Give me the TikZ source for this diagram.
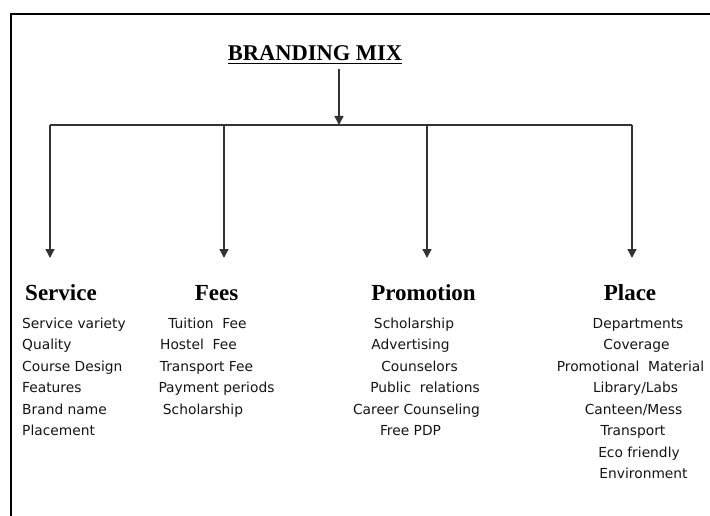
\documentclass[tikz,border=0pt]{standalone}
\usepackage{fontspec}
\setmainfont{Liberation Serif}
\newfontfamily\itemfont{DejaVu Sans}
\usetikzlibrary{arrows.meta}
\tikzset{
  frameline/.style={line width=2.3pt, black},
  conn/.style={line width=1.4pt, draw=black!80},
  arr/.style={conn, -{Triangle[width=9pt,length=9pt]}},
  titletext/.style={inner sep=0pt, anchor=base, font=\fontsize{22.5}{26}\selectfont\bfseries},
  headtext/.style={inner sep=0pt, anchor=base, font=\fontsize{23}{26}\selectfont\bfseries},
  itemtext/.style={inner sep=0pt, anchor=base, font=\itemfont\fontsize{13.8}{16}\selectfont, text=black!92},
  itemleft/.style={itemtext, anchor=base west}
}
\begin{document}
\begin{tikzpicture}[x=1pt,y=-1pt]
\useasboundingbox (0,0) rectangle (710,516);
% frame
\draw[frameline] (11,516) -- (11,14) -- (710,14);

% title
\node[titletext] (title) at (315,61) {BRANDING MIX};
\draw[line width=1.3pt] ([yshift=-2.6pt]title.base west) -- ([yshift=-2.6pt]title.base east);

% bar coordinates
\coordinate (jc) at (339,125);
\coordinate (j1) at (50,125);
\coordinate (j2) at (224,125);
\coordinate (j3) at (427,125);
\coordinate (j4) at (632,125);
\coordinate (e1) at (50,258);
\coordinate (e2) at (224,258);
\coordinate (e3) at (427,258);
\coordinate (e4) at (632,258);
\coordinate (ts) at (339,69);

\draw[arr] (ts) -- (jc);
\draw[conn] (j1) -- (j4);
\draw[arr] (j1) -- (e1);
\draw[arr] (j2) -- (e2);
\draw[arr] (j3) -- (e3);
\draw[arr] (j4) -- (e4);

% headings
\node[headtext] (hservice) at (61,300) {Service};
\node[headtext] (hfees) at (216.5,300) {Fees};
\node[headtext] (hpromo) at (423.5,300) {Promotion};
\node[headtext] (hplace) at (630,300) {Place};

% Service
\node[itemleft] (s1) at (22,328) {Service variety};
\node[itemleft] (s2) at (22,349.5) {Quality};
\node[itemleft] (s3) at (22,371) {Course Design};
\node[itemleft] (s4) at (22,392.5) {Features};
\node[itemleft] (s5) at (22,414) {Brand name};
\node[itemleft] (s6) at (22,435.5) {Placement};

% Fees
\node[itemtext] (f1) at (207.5,328) {Tuition\ \ Fee};
\node[itemtext] (f2) at (198.5,349.5) {Hostel\ \ Fee};
\node[itemtext] (f3) at (206.5,371) {Transport Fee};
\node[itemtext] (f4) at (216.5,392.5) {Payment periods};
\node[itemtext] (f5) at (203,414) {Scholarship};

% Promotion
\node[itemtext] (p1) at (414,328) {Scholarship};
\node[itemtext] (p2) at (410.5,349.5) {Advertising};
\node[itemtext] (p3) at (419.5,371) {Counselors};
\node[itemtext] (p4) at (425,392.5) {Public\ \ relations};
\node[itemtext] (p5) at (416.5,414) {Career Counseling};
\node[itemtext] (p6) at (410.5,435.5) {Free PDP};

% Place
\node[itemtext] (l1) at (638,328) {Departments};
\node[itemtext] (l2) at (636.5,349.5) {Coverage};
\node[itemtext] (l3) at (630.5,371) {Promotional\ \ Material};
\node[itemtext] (l4) at (635.5,392.5) {Library/Labs};
\node[itemtext] (l5) at (633.5,414) {Canteen/Mess};
\node[itemtext] (l6) at (633,435.5) {Transport};
\node[itemtext] (l7) at (639,457) {Eco friendly};
\node[itemtext] (l8) at (643.5,478.5) {Environment};
\end{tikzpicture}
\end{document}
